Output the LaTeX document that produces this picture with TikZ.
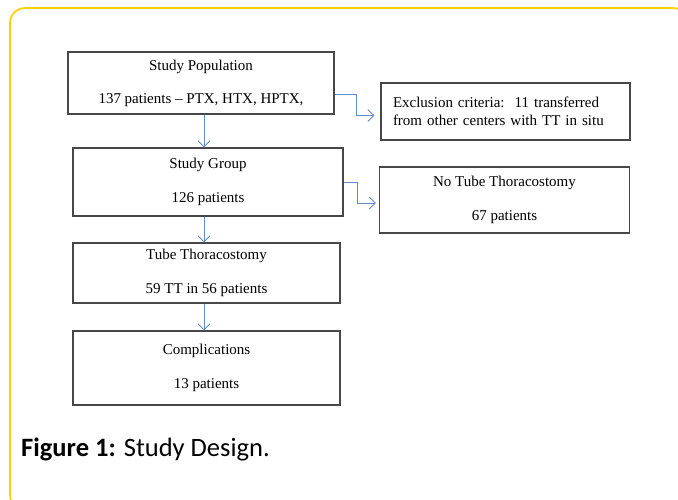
\documentclass[tikz,border=0pt]{standalone}
\usepackage{fontspec}
\setmainfont{Liberation Serif}
\newfontfamily\capfont{Carlito}
\usetikzlibrary{arrows.meta}
\definecolor{framey}{RGB}{255,208,0}
\definecolor{arrblue}{RGB}{95,140,205}
\tikzset{
  box/.style={draw=black!72,line width=1.1pt,align=center,inner sep=0pt,
    font=\fontsize{15}{34}\selectfont},
  arr/.style={arrblue,line width=0.9pt,-{Straight Barb[length=6pt,width=12pt]}}
}
\begin{document}
\begin{tikzpicture}[x=1pt,y=-1pt]
                \useasboundingbox (0,0) rectangle (678,499);
                \begin{scope}
                  \clip (0,0) rectangle (678,499);
                  \draw[framey,line width=1.7pt,rounded corners=15pt] (10,8) rectangle (688,510);
                \end{scope}
                %% left column
                \node[box,minimum width=266pt,minimum height=62pt,font=\fontsize{15}{33}\selectfont] (pop) at (201,83)
                  {Study Population\\137 patients -- PTX, HTX, HPTX,};
                \node[box,minimum width=270pt,minimum height=68pt] (grp) at (208,182) {Study Group\\126 patients};
                \node[box,minimum width=267pt,minimum height=60pt] (tube) at (206.5,273) {Tube Thoracostomy\\59 TT in 56 patients};
                \node[box,minimum width=267pt,minimum height=74pt] (comp) at (206.5,368) {Complications\\13 patients};
                %% right column
                \node[box,align=left,text width=225pt,inner xsep=12pt,minimum height=57pt,font=\fontsize{15}{18}\selectfont] (excl) at (505.5,111.5)
                  {Exclusion criteria:\ \ 11 transferred\\from other centers with TT in situ};
                \node[box,minimum width=250pt,minimum height=66pt] (notube) at (504.5,200) {No Tube Thoracostomy\\67 patients};
                %% arrows
                \coordinate (spine) at (204,0);
                \draw[arr] (pop.south -| spine) -- (grp.north -| spine);
                \draw[arr] (grp.south -| spine) -- (tube.north -| spine);
                \draw[arr] (tube.south -| spine) -- (comp.north -| spine);
                \draw[arr,shorten >=6pt] ([yshift=-11pt]pop.east) -- ++(22,0) |- ([yshift=-4pt]excl.west);
                \draw[arr,shorten >=3pt] (grp.east) -- ++(14,0) |- ([yshift=-3pt]notube.west);
                %% caption
                \node[anchor=base west,inner sep=0pt,font=\capfont\fontsize{26.5}{30}\selectfont] (cap) at (21,456)
                  {\textbf{Figure 1:} Study Design.};
            \end{tikzpicture}
\end{document}
